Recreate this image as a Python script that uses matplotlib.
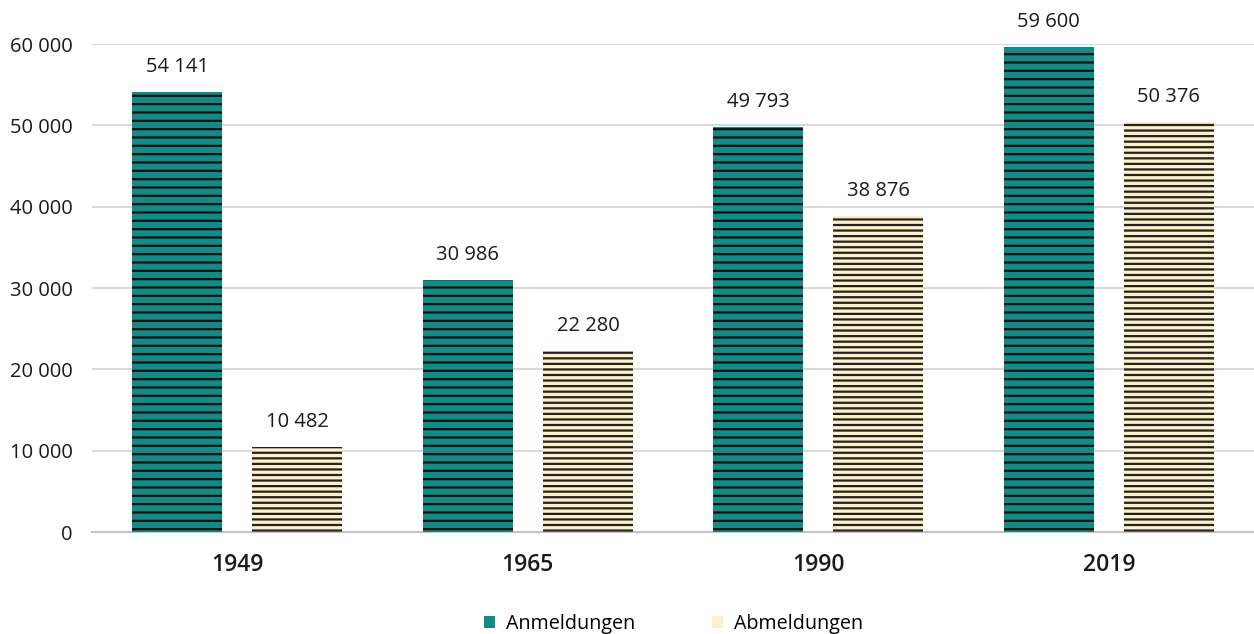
import numpy as np
import matplotlib.pyplot as plt
from matplotlib.patches import Patch

# data
years = ['1949', '1965', '1990', '2019']
anmeldungen = [54141, 30986, 49793, 59600]
abmeldungen = [10482, 22280, 38876, 50376]

teal = '#138a84'
cream = '#fbf0c9'

plt.rcParams['font.family'] = ['Open Sans', 'DejaVu Sans']
plt.rcParams['hatch.linewidth'] = 1.6

fig = plt.figure(figsize=(12.54, 6.34), dpi=100)
ax = fig.add_axes([92/1254, 1 - 532/634, 1 - 92/1254, (532 - 44)/634])

x = np.arange(len(years))
w = 0.31
off = 0.207

b1 = ax.bar(x - off, anmeldungen, w, color=teal, edgecolor='#111111',
            linewidth=0, hatch='--', zorder=3)
b2 = ax.bar(x + off, abmeldungen, w, color=cream, edgecolor='#222222',
            linewidth=0, hatch='---', zorder=3)

def fmt(v):
    return f'{v:,}'.replace(',', ' ')

for bars, vals in [(b1, anmeldungen), (b2, abmeldungen)]:
    for r, v in zip(bars, vals):
        ax.annotate(fmt(v), (r.get_x() + r.get_width() / 2, v),
                    xytext=(0, 18), textcoords='offset points',
                    ha='center', va='center', fontsize=14.5,
                    color='#1a1a1a', annotation_clip=False)

ax.set_xlim(-0.5, 3.5)
ax.set_ylim(0, 60000)
ax.set_yticks(np.arange(0, 60001, 10000))
ax.set_yticklabels([fmt(v) for v in range(0, 60001, 10000)])
ax.set_xticks(x)
ax.set_xticklabels(years, fontweight='semibold', fontsize=16.5)
ax.tick_params(axis='y', length=0, pad=14, labelsize=14.5, labelcolor='#1a1a1a')
ax.tick_params(axis='x', length=0, pad=15, labelcolor='#1a1a1a')

ax.grid(axis='y', color='#d9d9d9', linewidth=1.5, zorder=0)
ax.set_axisbelow(True)
for s in ['top', 'right', 'left']:
    ax.spines[s].set_visible(False)
ax.spines['bottom'].set_color('#c4c4c4')
ax.spines['bottom'].set_linewidth(1.5)

handles = [Patch(facecolor=teal, label='Anmeldungen'),
           Patch(facecolor=cream, label='Abmeldungen')]
fig.legend(handles=handles, loc='lower center', bbox_to_anchor=(0.537, -0.028),
           ncol=2, frameon=False, fontsize=14.2, handlelength=0.55,
           handleheight=0.55, handletextpad=0.55, columnspacing=3.9)

fig.savefig('out.png', dpi=100)
